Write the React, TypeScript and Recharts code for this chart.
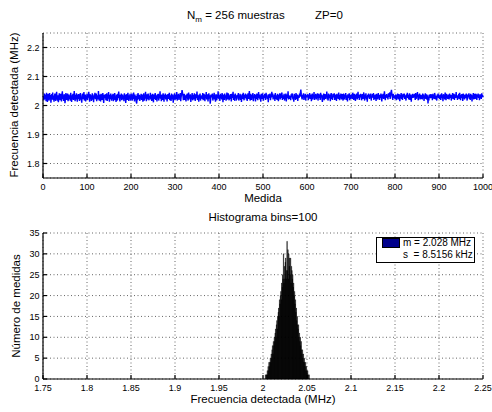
import { LineChart, Line, BarChart, Bar, XAxis, YAxis, CartesianGrid } from 'recharts';

// frecuencia detectada en cada medida (MHz), medidas 1..1000
const frecuencias = [
  2.033, 2.018, 2.041, 2.022, 2.027, 2.038, 2.015, 2.044, 2.029, 2.012, 2.035, 2.040, 2.024, 2.017, 2.043, 2.028, 2.036, 2.010, 2.027, 2.039,
  2.021, 2.045, 2.019, 2.034, 2.013, 2.030, 2.041, 2.026, 2.016, 2.038, 2.047, 2.023, 2.020, 2.035, 2.011, 2.028, 2.042, 2.031, 2.018, 2.040,
  2.027, 2.014, 2.037, 2.049, 2.022, 2.033, 2.016, 2.039, 2.029, 2.008, 2.025, 2.043, 2.034, 2.019, 2.030, 2.041, 2.015, 2.027, 2.038, 2.022,
  2.032, 2.017, 2.044, 2.028, 2.012, 2.035, 2.024, 2.040, 2.019, 2.030, 2.050, 2.026, 2.015, 2.037, 2.021, 2.042, 2.029, 2.013, 2.038, 2.023,
  2.039, 2.028, 2.016, 2.033, 2.043, 2.020, 2.027, 2.010, 2.035, 2.041, 2.022, 2.030, 2.046, 2.017, 2.028, 2.038, 2.014, 2.033, 2.024, 2.040,
  2.019, 2.037, 2.027, 2.047, 2.030, 2.013, 2.039, 2.024, 2.035, 2.016, 2.028, 2.042, 2.020, 2.033, 2.011, 2.038, 2.026, 2.044, 2.022, 2.030,
  2.041, 2.015, 2.028, 2.035, 2.021, 2.050, 2.027, 2.017, 2.038, 2.029, 2.014, 2.040, 2.028, 2.019, 2.033, 2.043, 2.023, 2.009, 2.037, 2.026,
  2.030, 2.039, 2.018, 2.027, 2.042, 2.016, 2.033, 2.024, 2.046, 2.028, 2.013, 2.037, 2.022, 2.041, 2.030, 2.017, 2.035, 2.026, 2.040, 2.015,
  2.024, 2.035, 2.043, 2.019, 2.030, 2.012, 2.038, 2.028, 2.017, 2.040, 2.026, 2.048, 2.033, 2.021, 2.014, 2.037, 2.028, 2.041, 2.018, 2.033,
  2.038, 2.021, 2.030, 2.015, 2.042, 2.028, 2.037, 2.009, 2.027, 2.039, 2.019, 2.033, 2.044, 2.023, 2.016, 2.035, 2.028, 2.040, 2.017, 2.030,
  2.028, 2.041, 2.017, 2.035, 2.023, 2.045, 2.030, 2.014, 2.038, 2.021, 2.033, 2.012, 2.007, 2.039, 2.018, 2.043, 2.029, 2.022, 2.037, 2.016,
  2.033, 2.026, 2.040, 2.019, 2.030, 2.038, 2.013, 2.028, 2.042, 2.017, 2.035, 2.024, 2.047, 2.029, 2.015, 2.039, 2.026, 2.021, 2.041, 2.028,
  2.018, 2.033, 2.028, 2.044, 2.021, 2.037, 2.016, 2.030, 2.040, 2.026, 2.011, 2.038, 2.023, 2.033, 2.043, 2.019, 2.029, 2.035, 2.014, 2.039,
  2.026, 2.040, 2.017, 2.033, 2.028, 2.049, 2.023, 2.035, 2.015, 2.038, 2.030, 2.019, 2.042, 2.028, 2.013, 2.037, 2.026, 2.041, 2.021, 2.033,
  2.037, 2.014, 2.030, 2.039, 2.023, 2.028, 2.044, 2.018, 2.035, 2.026, 2.016, 2.041, 2.029, 2.021, 2.038, 2.010, 2.033, 2.027, 2.042, 2.019,
  2.030, 2.038, 2.023, 2.046, 2.017, 2.033, 2.028, 2.040, 2.019, 2.035, 2.026, 2.043, 2.015, 2.030, 2.039, 2.053, 2.045, 2.035, 2.018, 2.030,
  2.040, 2.019, 2.035, 2.026, 2.014, 2.038, 2.029, 2.041, 2.023, 2.017, 2.045, 2.028, 2.035, 2.021, 2.039, 2.012, 2.033, 2.026, 2.043, 2.018,
  2.028, 2.037, 2.021, 2.042, 2.033, 2.016, 2.039, 2.026, 2.030, 2.048, 2.019, 2.035, 2.023, 2.013, 2.038, 2.028, 2.041, 2.017, 2.033, 2.026,
  2.035, 2.023, 2.043, 2.018, 2.030, 2.040, 2.026, 2.015, 2.037, 2.028, 2.046, 2.021, 2.033, 2.039, 2.014, 2.030, 2.042, 2.024, 2.035, 2.006,
  2.019, 2.038, 2.028, 2.033, 2.041, 2.017, 2.030, 2.026, 2.044, 2.021, 2.035, 2.013, 2.039, 2.028, 2.018, 2.037, 2.026, 2.049, 2.023, 2.033,
  2.030, 2.016, 2.040, 2.026, 2.037, 2.021, 2.043, 2.033, 2.011, 2.038, 2.028, 2.019, 2.041, 2.030, 2.035, 2.017, 2.027, 2.045, 2.021, 2.038,
  2.042, 2.028, 2.018, 2.035, 2.023, 2.039, 2.030, 2.014, 2.040, 2.026, 2.033, 2.047, 2.019, 2.028, 2.038, 2.016, 2.041, 2.026, 2.035, 2.021,
  2.023, 2.037, 2.030, 2.043, 2.017, 2.033, 2.026, 2.040, 2.019, 2.035, 2.012, 2.030, 2.039, 2.023, 2.044, 2.028, 2.018, 2.037, 2.026, 2.041,
  2.033, 2.021, 2.038, 2.016, 2.028, 2.042, 2.023, 2.035, 2.050, 2.026, 2.017, 2.040, 2.030, 2.019, 2.037, 2.028, 2.043, 2.015, 2.033, 2.026,
  2.039, 2.028, 2.014, 2.037, 2.023, 2.041, 2.033, 2.018, 2.030, 2.046, 2.026, 2.038, 2.021, 2.035, 2.013, 2.040, 2.028, 2.023, 2.042, 2.030,
  2.017, 2.035, 2.026, 2.040, 2.033, 2.019, 2.044, 2.028, 2.038, 2.023, 2.030, 2.011, 2.039, 2.026, 2.035, 2.041, 2.018, 2.033, 2.028, 2.047,
  2.030, 2.041, 2.021, 2.033, 2.026, 2.038, 2.016, 2.043, 2.023, 2.035, 2.028, 2.019, 2.040, 2.030, 2.015, 2.037, 2.026, 2.042, 2.021, 2.035,
  2.038, 2.026, 2.045, 2.019, 2.030, 2.035, 2.023, 2.040, 2.017, 2.033, 2.028, 2.041, 2.014, 2.038, 2.026, 2.030, 2.049, 2.021, 2.035, 2.028,
  2.023, 2.033, 2.018, 2.039, 2.028, 2.042, 2.035, 2.021, 2.030, 2.013, 2.040, 2.026, 2.037, 2.019, 2.043, 2.033, 2.023, 2.038, 2.016, 2.030,
  2.035, 2.026, 2.041, 2.030, 2.045, 2.055, 2.039, 2.028, 2.021, 2.037, 2.030, 2.042, 2.019, 2.033, 2.026, 2.040, 2.017, 2.035, 2.028, 2.038,
  2.028, 2.039, 2.018, 2.035, 2.026, 2.043, 2.023, 2.033, 2.038, 2.015, 2.030, 2.041, 2.021, 2.037, 2.028, 2.046, 2.019, 2.033, 2.026, 2.040,
  2.021, 2.037, 2.030, 2.042, 2.017, 2.033, 2.040, 2.026, 2.035, 2.019, 2.044, 2.028, 2.038, 2.023, 2.012, 2.035, 2.030, 2.041, 2.018, 2.033,
  2.039, 2.023, 2.035, 2.028, 2.048, 2.021, 2.033, 2.017, 2.041, 2.030, 2.026, 2.038, 2.015, 2.035, 2.043, 2.023, 2.030, 2.019, 2.040, 2.028,
  2.033, 2.042, 2.019, 2.030, 2.038, 2.026, 2.016, 2.040, 2.028, 2.035, 2.023, 2.045, 2.030, 2.018, 2.037, 2.026, 2.041, 2.021, 2.033, 2.039,
  2.026, 2.017, 2.041, 2.033, 2.021, 2.038, 2.030, 2.043, 2.019, 2.035, 2.028, 2.014, 2.039, 2.026, 2.033, 2.042, 2.018, 2.037, 2.023, 2.030,
  2.038, 2.030, 2.023, 2.044, 2.035, 2.019, 2.028, 2.040, 2.026, 2.016, 2.037, 2.033, 2.041, 2.021, 2.030, 2.047, 2.026, 2.035, 2.019, 2.038,
  2.028, 2.040, 2.033, 2.018, 2.026, 2.039, 2.023, 2.035, 2.045, 2.028, 2.017, 2.038, 2.030, 2.042, 2.021, 2.033, 2.013, 2.037, 2.028, 2.041,
  2.035, 2.023, 2.038, 2.028, 2.041, 2.017, 2.033, 2.026, 2.039, 2.030, 2.043, 2.019, 2.035, 2.023, 2.038, 2.028, 2.016, 2.040, 2.033, 2.026,
  2.021, 2.043, 2.030, 2.035, 2.019, 2.037, 2.026, 2.041, 2.033, 2.014, 2.038, 2.028, 2.040, 2.023, 2.035, 2.049, 2.030, 2.018, 2.037, 2.028,
  2.039, 2.026, 2.033, 2.021, 2.042, 2.030, 2.037, 2.045, 2.023, 2.035, 2.047, 2.054, 2.038, 2.028, 2.019, 2.040, 2.033, 2.026, 2.035, 2.023,
  2.030, 2.038, 2.018, 2.035, 2.028, 2.041, 2.021, 2.033, 2.039, 2.026, 2.015, 2.037, 2.030, 2.043, 2.023, 2.035, 2.019, 2.040, 2.028, 2.033,
  2.041, 2.023, 2.035, 2.030, 2.017, 2.039, 2.028, 2.044, 2.026, 2.037, 2.021, 2.033, 2.042, 2.019, 2.030, 2.038, 2.013, 2.035, 2.026, 2.040,
  2.026, 2.037, 2.028, 2.040, 2.033, 2.019, 2.043, 2.023, 2.035, 2.030, 2.046, 2.026, 2.018, 2.038, 2.033, 2.041, 2.021, 2.030, 2.037, 2.023,
  2.035, 2.021, 2.041, 2.028, 2.038, 2.016, 2.033, 2.026, 2.042, 2.023, 2.030, 2.039, 2.019, 2.035, 2.007, 2.028, 2.017, 2.038, 2.026, 2.033,
  2.030, 2.039, 2.026, 2.035, 2.018, 2.040, 2.028, 2.033, 2.023, 2.043, 2.037, 2.021, 2.033, 2.026, 2.017, 2.038, 2.030, 2.041, 2.026, 2.035,
  2.023, 2.033, 2.038, 2.019, 2.030, 2.042, 2.026, 2.035, 2.015, 2.039, 2.028, 2.037, 2.021, 2.045, 2.030, 2.018, 2.040, 2.028, 2.033, 2.023,
  2.038, 2.028, 2.021, 2.041, 2.033, 2.026, 2.037, 2.017, 2.035, 2.030, 2.043, 2.023, 2.033, 2.040, 2.019, 2.030, 2.038, 2.026, 2.046, 2.028,
  2.033, 2.019, 2.035, 2.028, 2.040, 2.023, 2.044, 2.030, 2.018, 2.037, 2.026, 2.039, 2.033, 2.016, 2.041, 2.028, 2.035, 2.021, 2.038, 2.030,
  2.026, 2.041, 2.030, 2.017, 2.038, 2.028, 2.033, 2.042, 2.023, 2.035, 2.019, 2.040, 2.030, 2.037, 2.014, 2.033, 2.026, 2.043, 2.021, 2.035,
  2.037, 2.023, 2.033, 2.040, 2.028, 2.019, 2.038, 2.030, 2.041, 2.026, 2.035, 2.018, 2.039, 2.028, 2.033, 2.023, 2.042, 2.030, 2.037, 2.028,
];
const medidaTicks = [0, 100, 200, 300, 400, 500, 600, 700, 800, 900, 1000];
const frecTicks = [1.8, 1.9, 2, 2.1, 2.2];

// histograma, 100 bins
const histInicio = 2.0026;
const histAncho = 0.0005;
const histCuentas = [
  1, 0, 1, 1, 2, 1, 3, 2, 4, 3,
  4, 5, 4, 6, 5, 7, 8, 6, 9, 8,
  10, 9, 11, 12, 10, 13, 14, 12, 15, 16,
  17, 15, 19, 18, 20, 21, 19, 23, 22, 25,
  24, 30, 23, 27, 24, 28, 29, 24, 26, 33,
  26, 31, 24, 30, 27, 29, 25, 29, 23, 27,
  26, 24, 25, 22, 23, 20, 21, 18, 19, 16,
  17, 14, 15, 13, 12, 13, 10, 11, 9, 10,
  8, 9, 7, 6, 7, 5, 6, 4, 5, 4,
  3, 4, 2, 3, 2, 1, 2, 1, 0, 1,
];
const histTicksX = [1.75, 1.8, 1.85, 1.9, 1.95, 2, 2.05, 2.1, 2.15, 2.2, 2.25];
const histTicksY = [0, 5, 10, 15, 20, 25, 30, 35];

const FONT = '"Liberation Sans", Arial, Helvetica, sans-serif';
const tickStyle = { fontSize: 9, fill: '#000', fontFamily: FONT };
const GRID = '#666';

const lineData = frecuencias.map((f, k) => ({ i: k + 1, f }));
const histData = histCuentas.map((n, k) => ({ f: histInicio + histAncho * (k + 0.5), n }));

function Txt({ x, y, size = 11.5, children }: { x: number; y: number; size?: number; children: any }) {
  return (
    <div style={{ position: 'absolute', left: x, top: y, transform: 'translateX(-50%)', fontSize: size, whiteSpace: 'nowrap', lineHeight: 1 }}>
      {children}
    </div>
  );
}

function VTxt({ x, y, children }: { x: number; y: number; children: any }) {
  return (
    <div style={{ position: 'absolute', left: x, top: y, transform: 'translate(-50%, -50%) rotate(-90deg)', fontSize: 11.5, whiteSpace: 'nowrap', lineHeight: 1 }}>
      {children}
    </div>
  );
}

export default function App() {
  return (
    <div style={{ position: 'absolute', left: 0, top: 0, width: 492, height: 412, background: '#fff', fontFamily: FONT, color: '#000' }}>
      <div style={{ position: 'absolute', left: 0, top: 0 }}>
        <LineChart width={492} height={200} data={lineData} margin={{ top: 33, right: 9, bottom: 0, left: 0 }}>
          <CartesianGrid stroke={GRID} strokeDasharray="1 2.5" />
          <XAxis dataKey="i" type="number" domain={[0, 1000]} ticks={medidaTicks} interval={0} height={22}
            stroke="#000" strokeWidth={1.2} tickSize={-4} tickMargin={10} tick={tickStyle} />
          <XAxis xAxisId="top" orientation="top" type="number" domain={[0, 1000]} ticks={medidaTicks} height={0}
            stroke="#000" strokeWidth={1.2} mirror tickSize={4} tick={false} />
          <YAxis type="number" domain={[1.75, 2.25]} ticks={frecTicks} interval={0} width={43}
            stroke="#000" strokeWidth={1.2} tickSize={-4} tickMargin={7.5} tick={tickStyle} />
          <YAxis yAxisId="right" orientation="right" type="number" domain={[1.75, 2.25]} ticks={frecTicks} width={0}
            stroke="#000" strokeWidth={1.2} mirror tickSize={4} tick={false} />
          <Line dataKey="f" stroke="#0000ff" strokeWidth={1.4} dot={false} isAnimationActive={false} />
        </LineChart>
      </div>

      <div style={{ position: 'absolute', left: 0, top: 210 }}>
        <BarChart width={492} height={190} data={histData} margin={{ top: 23, right: 9, bottom: 0, left: 0 }}
          barCategoryGap={0} barGap={0}>
          <CartesianGrid stroke={GRID} strokeDasharray="1 2.5" />
          <XAxis dataKey="f" type="number" domain={[1.75, 2.25]} ticks={histTicksX} interval={0} height={21}
            stroke="#000" strokeWidth={1.2} tickSize={-4} tickMargin={10} tick={tickStyle} />
          <XAxis xAxisId="top" orientation="top" type="number" domain={[1.75, 2.25]} ticks={histTicksX} height={0}
            stroke="#000" strokeWidth={1.2} mirror tickSize={4} tick={false} />
          <YAxis type="number" domain={[0, 35]} ticks={histTicksY} interval={0} width={43}
            stroke="#000" strokeWidth={1.2} tickSize={-4} tickMargin={7.5} tick={tickStyle} />
          <YAxis yAxisId="right" orientation="right" type="number" domain={[0, 35]} ticks={histTicksY} width={0}
            stroke="#000" strokeWidth={1.2} mirror tickSize={4} tick={false} />
          <Bar dataKey="n" fill="#000" stroke="#000" strokeWidth={0.4} isAnimationActive={false} />
        </BarChart>
      </div>

      <div style={{ position: 'absolute', left: 187, top: 10, fontSize: 11.5, whiteSpace: 'nowrap', lineHeight: 1 }}>
        N<sub style={{ fontSize: 8, verticalAlign: -3 }}>m</sub> = 256 muestras
      </div>
      <div style={{ position: 'absolute', left: 315, top: 10, fontSize: 11.5, whiteSpace: 'nowrap', lineHeight: 1 }}>ZP=0</div>

      <Txt x={263} y={193}>Medida</Txt>
      <VTxt x={15} y={105}>Frecuencia detectada (MHz)</VTxt>

      <Txt x={263} y={212}>Histograma bins=100</Txt>
      <Txt x={263} y={394}>Frecuencia detectada (MHz)</Txt>
      <VTxt x={17} y={306}>Número de medidas</VTxt>

      <div style={{ position: 'absolute', left: 376, top: 237, width: 99, height: 26, boxSizing: 'border-box', border: '1px solid #000', background: '#fff' }}>
        <div style={{ position: 'absolute', left: 5, top: 0, width: 18, height: 10, background: '#00008b', border: '0.5px solid #000', boxSizing: 'border-box' }} />
        <div style={{ position: 'absolute', left: 26, top: 0, fontSize: 10, whiteSpace: 'nowrap', lineHeight: 1 }}>m = 2.028 MHz</div>
        <div style={{ position: 'absolute', left: 26, top: 12, fontSize: 10, whiteSpace: 'pre', lineHeight: 1 }}>s  = 8.5156 kHz</div>
      </div>
    </div>
  );
}
